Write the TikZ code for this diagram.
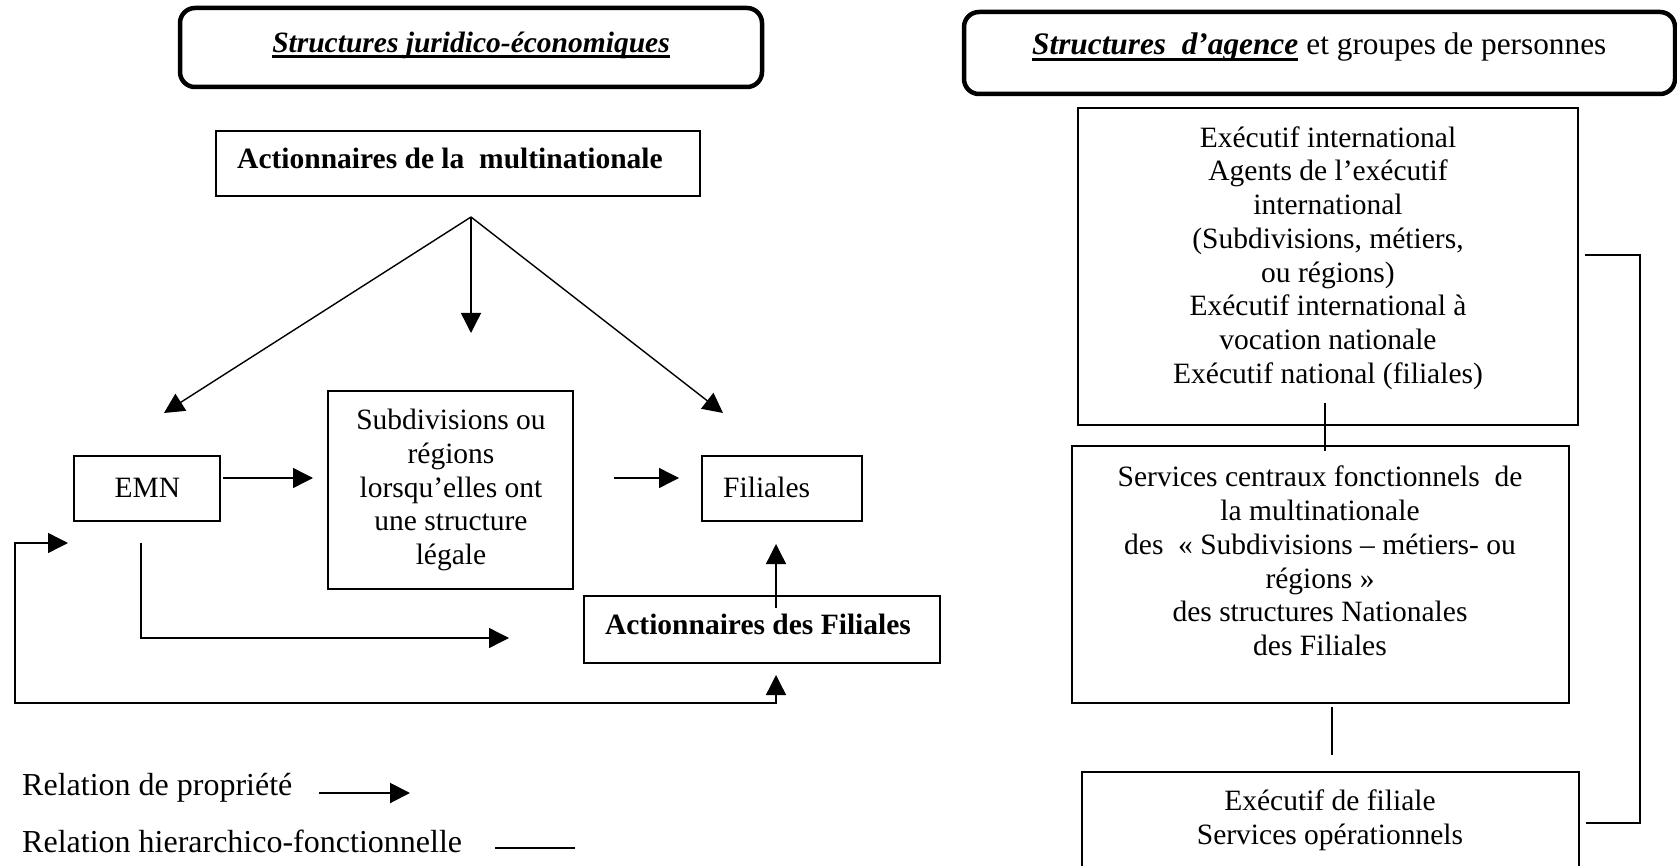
\documentclass[tikz,border=0pt]{standalone}
\usepackage{fontspec}
\setmainfont{Liberation Serif}
\usetikzlibrary{arrows.meta,calc}

\begin{document}
\begin{tikzpicture}[x=1pt,y=-1pt,
  box/.style={draw, line width=1.8pt, inner sep=0pt},
  titlebox/.style={draw, line width=4.5pt, rounded corners=15pt, inner sep=0pt},
  txt/.style={font=\fontsize{29.5pt}{33.7pt}\selectfont, inner sep=0pt, align=center},
  bigtxt/.style={font=\fontsize{31.3pt}{36pt}\selectfont, inner sep=0pt},
  legtxt/.style={font=\fontsize{32pt}{36pt}\selectfont, inner sep=0pt},
  link/.style={line width=1.4pt},
  head/.tip={Triangle[length=20pt,width=20pt]},
  own/.style={line width=1.4pt, -head},
  uline/.style={line width=3pt}
]
\useasboundingbox (0,0) rectangle (1677,866);
\clip (0,0) rectangle (1677,866);

% ---------- left part: legal and economic structures ----------
\node[titlebox, minimum width=582pt, minimum height=79pt] (tl) at (471,47.5) {};
\node[txt, anchor=base] (tlt) at (471,53) {\textbf{\textit{Structures juridico-économiques}}};
\draw[uline] ($(tlt.base west)+(0,4)$) -- ($(tlt.base east)+(0,4)$);

\node[box, minimum width=484pt, minimum height=65pt] (act) at (458,163.5) {};
\node[txt, anchor=base west] (actt) at (237,169) {\textbf{Actionnaires de la\ \ multinationale}};

\node[box, minimum width=245pt, minimum height=198pt] (sub) at (450.5,490) {};
\node[txt] (subt) at (451,490) {Subdivisions ou\\régions\\lorsqu’elles ont\\une structure\\légale};

\node[box, minimum width=146pt, minimum height=65pt] (emn) at (147,488.5) {};
\node[txt, anchor=base] (emnt) at (147.5,497) {EMN};

\node[box, minimum width=160pt, minimum height=65pt] (fil) at (782,488.5) {};
\node[txt, anchor=base west] (filt) at (723,497) {Filiales};

\node[box, minimum width=356pt, minimum height=67pt] (af) at (762,629.5) {};
\node[txt, anchor=base] (aft) at (758,634) {\textbf{Actionnaires des Filiales}};

% ownership links
\coordinate (apex) at (471,217);
\coordinate (tipL) at (164,413);
\coordinate (tipM) at (471,333);
\coordinate (tipR) at (723,413);
\draw[own] (apex) -- (tipL);
\draw[own] (apex) -- (tipM);
\draw[own] (apex) -- (tipR);

\coordinate (e1) at (223,478);
\coordinate (e2) at (313,478);
\draw[own] (e1) -- (e2);

\coordinate (s1) at (614,478);
\coordinate (s2) at (679,478);
\draw[own] (s1) -- (s2);

\coordinate (af1) at (776,608);
\coordinate (af2) at (776,544);
\draw[own] (af1) -- (af2);

\coordinate (d1) at (141,543);
\coordinate (d2) at (509,638);
\draw[own] (d1) |- (d2);

\coordinate (l1) at (68,543);
\coordinate (lc) at (15,703);
\coordinate (l2) at (776,675);
\draw[link, head-head] (l1) -| (lc) -| (l2);

% legend
\node[legtxt, anchor=base west] (leg1) at (22,795) {Relation de propriété};
\node[legtxt, anchor=base west] (leg2) at (22,852) {Relation hierarchico-fonctionnelle};
\coordinate (lga) at (319,793);
\coordinate (lgb) at (410,793);
\draw[line width=2pt, -head] (lga) -- (lgb);
\coordinate (lha) at (495,848);
\coordinate (lhb) at (575,848);
\draw[line width=2pt] (lha) -- (lhb);

% ---------- right part: agency structures ----------
\node[titlebox, minimum width=711pt, minimum height=82pt] (tr) at (1319.5,53) {};
\node[bigtxt, anchor=base west] (trt1) at (1032,55) {\textbf{\textit{Structures\ \ d’agence}}};
\node[bigtxt, anchor=base west] (trt2) at (trt1.base east) {\ et groupes de personnes};
\draw[uline] ($(trt1.base west)+(0,5)$) -- ($(trt1.base east)+(0,5)$);

\node[box, minimum width=500pt, minimum height=317pt] (b1) at (1328,266.5) {};
\node[txt] (b1t) at (1328,258) {Exécutif international\\Agents de l’exécutif\\international\\(Subdivisions, métiers,\\ou régions)\\Exécutif international à\\vocation nationale\\Exécutif national (filiales)};

\node[box, minimum width=497pt, minimum height=257pt] (b2) at (1320.5,574.5) {};
\node[txt] (b2t) at (1320,561) {Services centraux fonctionnels\ \ de\\la multinationale\\des\ \ «\ Subdivisions – métiers- ou\\régions\ »\\des structures Nationales\\des Filiales};

\node[box, minimum width=497pt, minimum height=128pt] (b3) at (1330.5,836) {};
\node[txt] (b3t) at (1330,820) {Exécutif de filiale\\Services opérationnels};

% hierarchical links
\coordinate (v1a) at (1325,403);
\coordinate (v1b) at (1325,451);
\draw[link] (v1a) -- (v1b);
\coordinate (v2a) at (1332,707);
\coordinate (v2b) at (1332,755);
\draw[link] (v2a) -- (v2b);
\coordinate (bra) at (1585,255);
\coordinate (brc) at (1640,823);
\coordinate (brb) at (1586,823);
\draw[line width=1.8pt] (bra) -| (brc) -- (brb);

\end{tikzpicture}
\end{document}
